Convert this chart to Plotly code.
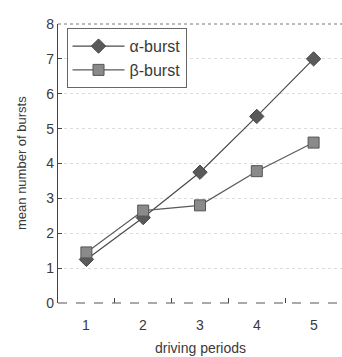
import plotly.graph_objects as go

# mean number of bursts per driving period
periods = [1, 2, 3, 4, 5]
alpha_bursts = [1.25, 2.45, 3.75, 5.35, 7.0]
beta_bursts = [1.45, 2.65, 2.8, 3.78, 4.6]
series_names = ["α-burst", "β-burst"]
y_ticks = [0, 1, 2, 3, 4, 5, 6, 7, 8]

ink = "#3a3a3a"
fig = go.Figure()
fig.add_trace(go.Scatter(
    x=periods, y=alpha_bursts, name=series_names[0], mode="lines+markers",
    line=dict(color="#4a4a4a", width=1.2),
    marker=dict(symbol="diamond", size=11, color="#5a5a5a",
                line=dict(color="#444", width=1)),
))
fig.add_trace(go.Scatter(
    x=periods, y=beta_bursts, name=series_names[1], mode="lines+markers",
    line=dict(color="#5a5a5a", width=1.2),
    marker=dict(symbol="square", size=11, color="#8a8a8a",
                line=dict(color="#555", width=1)),
))

# frame: dotted top, dashed bottom
fig.add_shape(type="line", xref="paper", yref="paper", x0=0, x1=1, y0=1, y1=1,
              line=dict(color="#777", width=1, dash="dot"))
fig.add_shape(type="line", xref="paper", yref="paper", x0=0, x1=1, y0=0, y1=0,
              line=dict(color="#555", width=1.2, dash="dash"))

fig.update_layout(
    width=342, height=357,
    margin=dict(l=58, r=0, t=24, b=54),
    paper_bgcolor="white", plot_bgcolor="white",
    font=dict(family="Liberation Sans, Arial, sans-serif", size=13, color=ink),
    showlegend=True,
    legend=dict(
        x=0.03, y=0.985, xanchor="left", yanchor="top",
        bordercolor="#666", borderwidth=1, bgcolor="white",
        font=dict(size=16, color=ink), tracegroupgap=0, itemwidth=52,
    ),
    xaxis=dict(
        range=[0.5, 5.5], tickvals=[1.5, 2.5, 3.5, 4.5], ticktext=["", "", "", ""],
        ticks="inside", ticklen=5, tickcolor="#444", showgrid=False,
        showline=False, zeroline=False,
    ),
    yaxis=dict(
        range=[0, 8], tickvals=y_ticks, ticks="inside", ticklen=4,
        tickcolor="#444", showline=True, linecolor="#444", linewidth=1.2,
        showgrid=True, gridcolor="#dddddd", griddash="dot", gridwidth=1,
        zeroline=False, tickfont=dict(size=14),
    ),
)

# period labels under the axis
for p in periods:
    fig.add_annotation(x=p, y=0, xref="x", yref="y", text=str(p), showarrow=False,
                       yshift=-22, font=dict(size=14, color=ink))

# axis titles
fig.add_annotation(x=3, y=0, xref="x", yref="y", text="driving periods",
                   showarrow=False, yshift=-45, font=dict(size=14, color=ink))
fig.add_annotation(x=0, xref="paper", xshift=-46, y=4, yref="y",
                   text="mean number of bursts", showarrow=False, textangle=-90,
                   font=dict(size=13, color=ink))

fig.write_html("out.html")
